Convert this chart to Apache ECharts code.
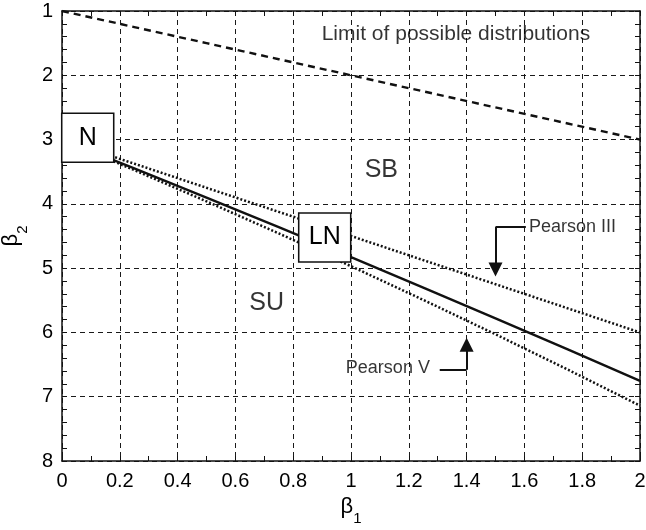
<!DOCTYPE html>
<html>
<head>
<meta charset="utf-8">
<script src="https://cdn.jsdelivr.net/npm/echarts@6/dist/echarts.min.js"></script>
<style>
  html, body { margin: 0; padding: 0; background: #fff; }
  #chart { width: 646px; height: 530px; }
</style>
</head>
<body>
<div id="chart"></div>
<script>
// β1 (squared skewness) sample points shared by the boundary curves
const betaOne = [0, 0.25, 0.5, 0.75, 1, 1.25, 1.5, 1.75, 2];
// β2 (kurtosis) along each curve
const limitCurve = [1, 1.25, 1.5, 1.75, 2, 2.25, 2.5, 2.75, 3];
const lognormalCurve = [3, 3.448, 3.902, 4.363, 4.829, 5.302, 5.781, 6.265, 6.755];
const pearsonIIICurve = [3, 3.375, 3.75, 4.125, 4.5, 4.875, 5.25, 5.625, 6];
const pearsonVCurve = [3, 3.475, 3.961, 4.46, 4.97, 5.494, 6.029, 6.578, 7.139];

// Tick values
const xTicks = [0, 0.2, 0.4, 0.6, 0.8, 1, 1.2, 1.4, 1.6, 1.8, 2];
const yTicks = [1, 2, 3, 4, 5, 6, 7, 8];

// Boxed distribution markers [β1, β2, text]
const boxes = [
  [0.089, 2.972, 'N'],
  [0.909, 4.522, 'LN']
];
// Region names [β1, β2, text]
const regionNames = [
  [1.105, 3.468, 'SB'],
  [0.708, 5.54, 'SU'],
  [1.363, 1.36, 'Limit of possible distributions']
];
// Curve callouts [β1, β2, text]
const pearsonIIILabel = [1.616, 4.359, 'Pearson III'];
const pearsonVLabel = [1.273, 6.552, 'Pearson V'];
// Callout arrows: elbow leg, then shaft ending in a head
const arrowLegs = [
  [[1.605, 4.359], [1.5, 4.359]],
  [[1.307, 6.58], [1.4, 6.58]]
];
const arrowShafts = [
  [[1.5, 4.359], [1.5, 5.02]],
  [[1.4, 6.58], [1.4, 6.19]]
];

const FONT = '"Liberation Sans", Arial, Helvetica, sans-serif';
const INK = '#111';
const TEXT = '#000';

function pairs(xs, ys) {
  return xs.map((x, i) => [x, ys[i]]);
}

const baseX = {
  type: 'value', min: xTicks[0], max: xTicks[xTicks.length - 1], interval: 0.2,
  axisLine: { show: true, onZero: false, lineStyle: { color: INK, width: 1.5 } },
  axisTick: { show: true, inside: true, length: 5, lineStyle: { color: INK, width: 1 } },
  minorTick: { show: true, splitNumber: 2, length: 5, lineStyle: { color: INK, width: 1 } }
};
const baseY = {
  type: 'value', min: yTicks[0], max: yTicks[yTicks.length - 1], interval: 1, inverse: true,
  axisLine: { show: true, onZero: false, lineStyle: { color: INK, width: 1.5 } },
  axisTick: { show: true, inside: true, length: 5, lineStyle: { color: INK, width: 1 } },
  minorTick: { show: true, splitNumber: 5, length: 5, lineStyle: { color: INK, width: 1 } }
};

const subscriptName = {
  rich: {
    b: { fontSize: 22, fontFamily: FONT, color: TEXT, lineHeight: 30, verticalAlign: 'top' },
    s: { fontSize: 15, fontFamily: FONT, color: TEXT, lineHeight: 30, verticalAlign: 'bottom' }
  }
};

const chart = echarts.init(document.getElementById('chart'), null, { renderer: 'canvas' });

const curveLine = (data, style) => ({
  type: 'line', data: data, showSymbol: false, symbol: 'none', z: 3,
  lineStyle: Object.assign({ color: INK, width: 2 }, style),
  silent: true
});

chart.setOption({
  animation: false,
  backgroundColor: '#fff',
  textStyle: { fontFamily: FONT },
  grid: { left: 62, right: 6, top: 11, bottom: 69, containLabel: false, outerBoundsMode: 'none' },
  xAxis: [
    Object.assign({}, baseX, {
      position: 'bottom',
      splitLine: { show: true, lineStyle: { color: '#1a1a1a', width: 1, type: [5, 4] } },
      axisLabel: { fontSize: 20, color: TEXT, margin: 10, fontFamily: FONT },
      name: '{b|β}{s|1}',
      nameLocation: 'middle',
      nameGap: 34,
      nameTextStyle: subscriptName
    }),
    Object.assign({}, baseX, {
      position: 'top',
      splitLine: { show: false },
      axisLabel: { show: false }
    })
  ],
  yAxis: [
    Object.assign({}, baseY, {
      position: 'left',
      splitLine: { show: true, lineStyle: { color: '#1a1a1a', width: 1, type: [5, 4] } },
      axisLabel: { fontSize: 20, color: TEXT, margin: 9, fontFamily: FONT },
      name: '{b|β}{s|2}',
      nameLocation: 'middle',
      nameGap: 32,
      nameTextStyle: subscriptName
    }),
    Object.assign({}, baseY, {
      position: 'right',
      splitLine: { show: false },
      axisLabel: { show: false }
    })
  ],
  series: [
    curveLine(pairs(betaOne, limitCurve), { type: [7, 5], width: 2.4 }),
    curveLine(pairs(betaOne, pearsonIIICurve), { type: [2, 2], width: 2.5 }),
    curveLine(pairs(betaOne, pearsonVCurve), { type: [2, 2], width: 2.5 }),
    curveLine(pairs(betaOne, lognormalCurve), { type: 'solid', width: 2.4 }),
    {
      type: 'lines', coordinateSystem: 'cartesian2d', z: 4, silent: true,
      symbol: ['none', 'none'],
      lineStyle: { color: INK, width: 2, opacity: 1 },
      data: arrowLegs.map(c => ({ coords: c }))
    },
    {
      type: 'lines', coordinateSystem: 'cartesian2d', z: 4, silent: true,
      symbol: ['none', 'triangle'],
      symbolSize: [15, 14],
      lineStyle: { color: INK, width: 2, opacity: 1 },
      itemStyle: { color: INK },
      data: arrowShafts.map(c => ({ coords: c }))
    },
    {
      type: 'scatter', z: 6, silent: true,
      symbol: 'rect', symbolSize: [52, 49],
      itemStyle: { color: '#fff', borderColor: INK, borderWidth: 1.5, opacity: 1 },
      label: {
        show: true, position: 'inside', fontSize: 25, color: TEXT, fontFamily: FONT,
        formatter: p => p.value[2]
      },
      data: boxes
    },
    {
      type: 'scatter', z: 6, silent: true, symbolSize: 0,
      label: {
        show: true, position: 'inside', color: TEXT, fontFamily: FONT,
        formatter: p => p.value[2]
      },
      data: regionNames.map((d, i) => ({
        value: d,
        label: { fontSize: i < 2 ? 25 : 21 }
      }))
    },
    {
      type: 'scatter', z: 6, silent: true, symbolSize: 0,
      label: {
        show: true, color: TEXT, fontFamily: FONT, fontSize: 18, distance: 0,
        formatter: p => p.value[2]
      },
      data: [
        { value: pearsonIIILabel, label: { position: 'right' } },
        { value: pearsonVLabel, label: { position: 'left' } }
      ]
    }
  ]
});
</script>
</body>
</html>
